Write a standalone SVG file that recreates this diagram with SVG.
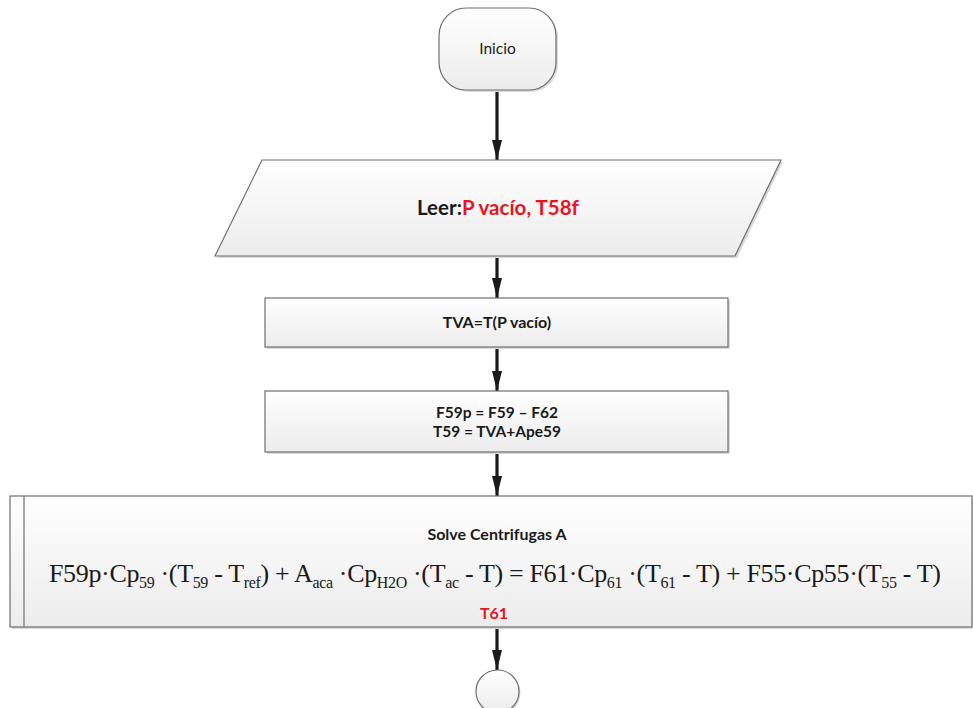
<svg xmlns="http://www.w3.org/2000/svg" width="973" height="708" viewBox="0 0 973 708">
<defs>
<linearGradient id="g" x1="0" y1="0" x2="0" y2="1">
<stop offset="0" stop-color="#ffffff"/>
<stop offset="1" stop-color="#ececec"/>
</linearGradient>
<marker id="ah" viewBox="0 0 20 10" refX="20" refY="5" markerWidth="20" markerHeight="10" markerUnits="userSpaceOnUse" orient="auto">
<path d="M0,0 L20,5 L0,10 Z" fill="#1a1a1a"/>
</marker>
</defs>
<style>
.shape{fill:url(#g);stroke:#6e6e6e;stroke-width:1.2}
.shadow{fill:#d9d9d9;stroke:none}
.lbl{font-family:Lato,"Open Sans","Liberation Sans",sans-serif;font-weight:bold;fill:#1a1a1a;text-anchor:middle}
.lbln{font-family:Lato,"Open Sans","Liberation Sans",sans-serif;fill:#1a1a1a;text-anchor:middle}
.red{fill:#e8141e}
.eq{font-family:"Liberation Serif","Times New Roman",serif;fill:#1a1a1a;font-size:26px}
.sub{font-size:16px}
.conn line{stroke:#1a1a1a;stroke-width:3.2;marker-end:url(#ah)}
</style>
<g id="connectors" class="conn">
<line x1="497" y1="90" x2="497" y2="160"/>
<line x1="497" y1="256" x2="497" y2="298"/>
<line x1="497" y1="347" x2="497" y2="391"/>
<line x1="497" y1="452" x2="497" y2="496"/>
<line x1="497" y1="627" x2="497" y2="670"/>
</g>
<g id="inicio">
<rect x="441" y="10" width="117" height="82" rx="27" ry="28" class="shadow"/>
<rect x="439" y="8" width="117" height="82" rx="27" ry="28" class="shape"/>
<text x="497.5" y="54" class="lbln" font-size="15.5">Inicio</text>
</g>
<g id="leer">
<polygon points="264,162 783,162 737,258 217,258" class="shadow"/>
<polygon points="262,160 781,160 735,256 215,256" class="shape"/>
<text x="498" y="215" class="lbl" font-size="20.5">Leer:<tspan class="red">P vacío, T58f</tspan></text>
</g>
<g id="tva">
<rect x="267" y="300" width="463" height="49" class="shadow"/>
<rect x="265" y="298" width="463" height="49" class="shape"/>
<text x="497" y="328" class="lbl" font-size="16">TVA=T(P vacío)</text>
</g>
<g id="f59p">
<rect x="267" y="393" width="463" height="61" class="shadow"/>
<rect x="265" y="391" width="463" height="61" class="shape"/>
<text x="497" y="418" class="lbl" font-size="15.5">F59p = F59 – F62</text>
<text x="497" y="437" class="lbl" font-size="15.5">T59 = TVA+Ape59</text>
</g>
<g id="solve">
<rect x="12" y="498" width="962" height="131" class="shadow"/>
<rect x="10" y="496" width="962" height="131" class="shape"/>
<line x1="24" y1="496" x2="24" y2="627" stroke="#6e6e6e" stroke-width="1.2"/>
<text x="497" y="540" class="lbl" font-size="16">Solve Centrifugas A</text>
<text x="49" y="582" class="eq" textLength="892" lengthAdjust="spacing">F59p·Cp<tspan class="sub" dy="6">59</tspan><tspan dy="-6"> ·(T</tspan><tspan class="sub" dy="6">59</tspan><tspan dy="-6"> - T</tspan><tspan class="sub" dy="6">ref</tspan><tspan dy="-6">) + A</tspan><tspan class="sub" dy="6">aca</tspan><tspan dy="-6"> ·Cp</tspan><tspan class="sub" dy="6">H2O</tspan><tspan dy="-6"> ·(T</tspan><tspan class="sub" dy="6">ac</tspan><tspan dy="-6"> - T) = F61·Cp</tspan><tspan class="sub" dy="6">61</tspan><tspan dy="-6"> ·(T</tspan><tspan class="sub" dy="6">61</tspan><tspan dy="-6"> - T) + F55·Cp55·(T</tspan><tspan class="sub" dy="6">55</tspan><tspan dy="-6"> - T)</tspan></text>
<text x="494" y="619" class="lbl red" font-size="16">T61</text>
</g>
<g id="fin">
<circle cx="499" cy="693" r="21.5" class="shadow"/>
<circle cx="497.5" cy="691.5" r="21.5" class="shape"/>
</g>
</svg>
